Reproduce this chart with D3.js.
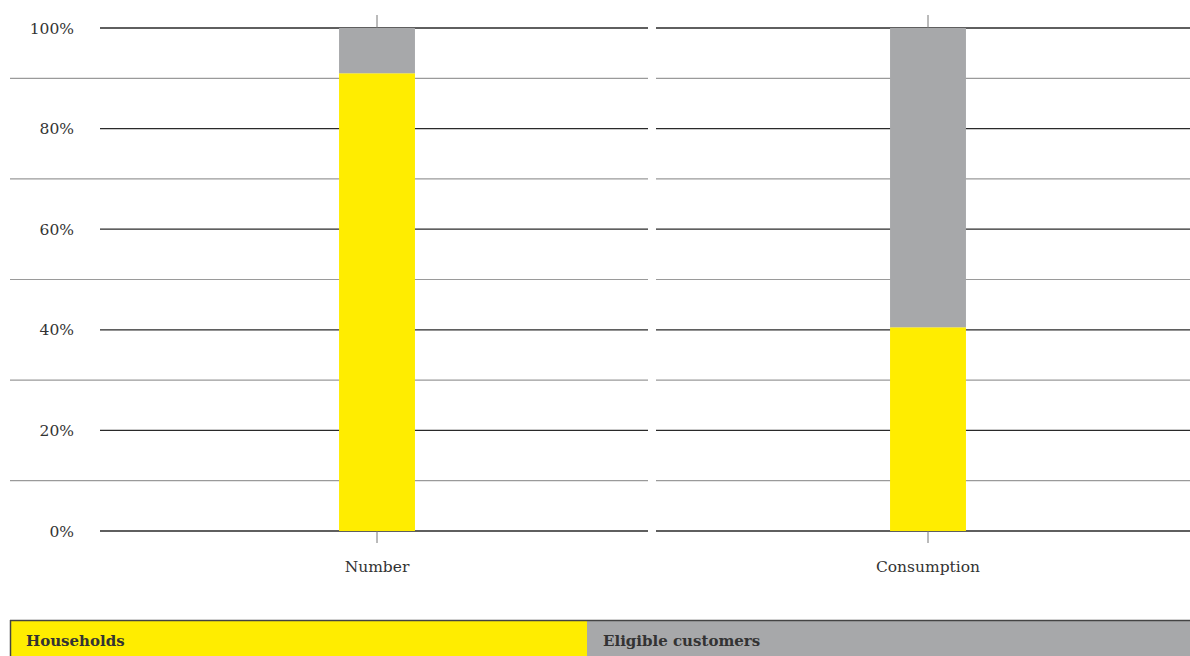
<!DOCTYPE html>
<html><head><meta charset="utf-8">
<script src="https://cdn.jsdelivr.net/npm/d3@7"></script>
<style>body{margin:0;background:#fff}svg{display:block}</style>
</head><body><svg id="c" width="1190" height="656"></svg>
<script>
const categories = ["Number", "Consumption"];
const seriesNames = ["Households", "Eligible customers"];
const households = [91, 40.5];
const eligible = [9, 59.5];
const yTicks = [0, 20, 40, 60, 80, 100];
const yMinor = [10, 30, 50, 70, 90];
const colors = ["#FFED00", "#A7A8AA"];

const svg = d3.select("#c");
const font = "'DejaVu Serif', serif";
const y = d3.scaleLinear().domain([0, 100]).range([531, 28]);
const panels = [{x0: 106, x1: 648, gx0: 100, mx0: 10}, {x0: 657, x1: 1199, gx0: 656, mx0: 656}];
const stack = d3.stack().keys([0, 1]).value((d, k) => k === 0 ? d.h : d.e);
const rows = categories.map((c, i) => ({c, h: households[i], e: eligible[i]}));
const layers = stack(rows);

categories.forEach((cat, i) => {
  const p = panels[i];
  const x = d3.scaleBand().domain([cat]).range([p.x0, p.x1]).paddingInner(0).paddingOuter(3.07);
  const g = svg.append("g");
  g.selectAll("line.minor").data(yMinor).join("line")
    .attr("x1", p.mx0).attr("x2", Math.min(p.x1, 1190)).attr("y1", d => y(d)).attr("y2", d => y(d))
    .attr("stroke", "#9a9a9a").attr("stroke-width", 1.2);
  g.selectAll("line.major").data(yTicks).join("line")
    .attr("x1", p.gx0).attr("x2", Math.min(p.x1, 1190)).attr("y1", d => y(d)).attr("y2", d => y(d))
    .attr("stroke", "#2a2a2a").attr("stroke-width", 1.3);
  const cx = x(cat) + x.bandwidth() / 2;
  g.append("line").attr("x1", cx).attr("x2", cx).attr("y1", y(100) - 13).attr("y2", y(100)).attr("stroke", "#777").attr("stroke-width", 1);
  g.append("line").attr("x1", cx).attr("x2", cx).attr("y1", y(0)).attr("y2", y(0) + 12).attr("stroke", "#777").attr("stroke-width", 1);
  layers.forEach((layer, k) => {
    const d = layer[i];
    g.append("rect").attr("x", x(cat)).attr("width", x.bandwidth())
      .attr("y", y(d[1])).attr("height", y(d[0]) - y(d[1])).attr("fill", colors[k]);
  });
  g.append("text").attr("x", cx).attr("y", y(0) + 41).attr("text-anchor", "middle")
    .attr("font-family", font).attr("font-size", 15.5).attr("fill", "#333").text(cat);
});

svg.selectAll("text.yl").data(yTicks).join("text")
  .attr("x", 74).attr("y", d => y(d) + 5.5).attr("text-anchor", "end")
  .attr("font-family", font).attr("font-size", 15.5).attr("fill", "#333").text(d => d + "%");

const lg = svg.append("g");
const lx = [10, 587, 1191];
seriesNames.forEach((s, k) => {
  lg.append("rect").attr("x", lx[k]).attr("y", 620.5).attr("width", lx[k + 1] - lx[k]).attr("height", 40).attr("fill", colors[k]);
  lg.append("text").attr("x", lx[k] + 16).attr("y", 646).attr("font-family", font).attr("font-weight", "bold")
    .attr("font-size", 15).attr("fill", "#333").text(s);
});
lg.append("line").attr("x1", 10).attr("x2", 1190).attr("y1", 620.5).attr("y2", 620.5).attr("stroke", "#444").attr("stroke-width", 1.5);
lg.append("line").attr("x1", 10.5).attr("x2", 10.5).attr("y1", 620).attr("y2", 656).attr("stroke", "#444").attr("stroke-width", 1.5);
</script></body></html>
